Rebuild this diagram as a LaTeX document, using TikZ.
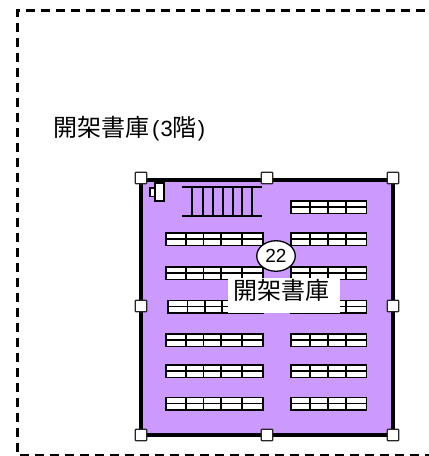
\documentclass[tikz,border=0pt]{standalone}
\usepackage{fontspec}
\newfontfamily\cjk{Noto Sans CJK JP}
\setmainfont{Liberation Sans}
\usetikzlibrary{shapes.geometric}
\definecolor{roomfill}{RGB}{204,153,255}
\tikzset{
  x=1pt,y=-1pt,
  frame/.style={draw=black,line width=3pt,dash pattern=on 9pt off 6pt},
  room/.style={draw=black,line width=4pt,fill=roomfill},
  handle/.style={draw=black!85,fill=white,line width=1.3pt,minimum size=11.5pt,inner sep=0pt,rounded corners=0.8pt},
  shelfline/.style={draw=black,line width=1.6pt},
  stairline/.style={draw=black,line width=1.3pt},
  badge/.style={draw=black,fill=white,ellipse,line width=1.3pt,minimum width=38.5pt,minimum height=30.5pt,inner sep=0pt,font=\fontsize{19}{19}\selectfont},
  lbl/.style={inner sep=0pt,font=\cjk\fontsize{24}{26}\selectfont}
}
\newcommand{\shelf}[4]{%
  \fill[white] (#1,#2) rectangle (#3,#2+12.5);
  \draw[shelfline] (#1,#2) rectangle (#3,#2+12.5);
  \draw[shelfline] (#1,#2+6) -- (#3,#2+6);
  \foreach \d in {#4} \draw[shelfline] (\d,#2) -- (\d,#2+12.5);
}
\begin{document}
\begin{tikzpicture}
\useasboundingbox (0,0) rectangle (429,456);
\fill[white] (0,0) rectangle (429,456);
\coordinate (ftr) at (440,10);
\coordinate (ftl) at (17.7,10);
\coordinate (fbl) at (17.7,455);
\coordinate (fbr) at (440,455);
\begin{scope}
\clip (0,0) rectangle (429,456);
\draw[frame] (ftr) -- (ftl) -- (fbl) -- (fbr);
\end{scope}
\node[lbl,anchor=west] (title) at (53,128.5) {開架書庫{\fontsize{22}{22}\selectfont\rmfamily\hspace{3pt}(\hspace{1pt}3}階{\fontsize{22}{22}\selectfont\rmfamily\hspace{1pt})}};
\draw[room] (141,179.5) rectangle (393,435);
\shelf{166}{233}{263}{186,203.3,221,241.7}
\shelf{166}{267}{263}{186,203.3,221,241.7}
\shelf{168}{300.5}{263}{187.5,205,222,241.7}
\shelf{166}{334}{263}{186,203.3,221,241.7}
\shelf{166}{365}{263}{186,203.3,221,241.7}
\shelf{166}{397.5}{263}{186,203.3,221,241.7}
\shelf{291}{201}{366.5}{310,328,346}
\shelf{291}{233}{366.5}{310,328,346}
\shelf{291}{267}{366.5}{310,328,346}
\shelf{291}{300.5}{366.5}{310,328,346}
\shelf{291}{334}{366.5}{310,328,346}
\shelf{291}{365}{366.5}{310,328,346}
\shelf{291}{397.5}{366.5}{310,328,346}
\draw[stairline] (182,187) -- (262,187) (182,216) -- (262,216);
\foreach \x in {192,203,213,223,233,242,252} \draw[stairline] (\x,187) -- (\x,216);
\draw[draw=black,fill=white,line width=1.3pt] (150,188) rectangle (155,196.5);
\draw[draw=black,fill=white,line width=1.3pt] (155,183) rectangle (164,201);
\node[fill=white,minimum width=112pt,minimum height=35pt,inner sep=0pt] (lblbg) at (284,295.5) {};
\node[badge] (b) at (276,256) {22};
\node[lbl] (rn) at (281.5,290.5) {開架書庫};
\foreach \n/\x/\y in {h1/141/178,h2/267/178,h3/393/178,h4/141/306,h5/393/306,h6/141/435,h7/267/435,h8/393/435}
  \node[handle] (\n) at (\x,\y) {};
\end{tikzpicture}
\end{document}
